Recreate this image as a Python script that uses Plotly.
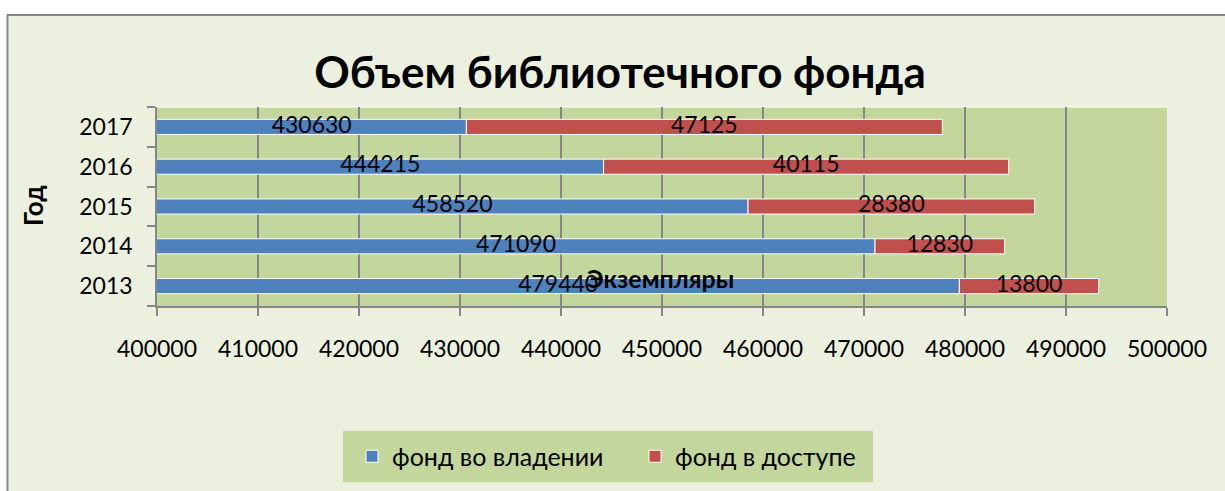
import plotly.graph_objects as go

years = ["2013", "2014", "2015", "2016", "2017"]
owned = [479440, 471090, 458520, 444215, 430630]
access = [13800, 12830, 28380, 40115, 47125]
series_names = ["фонд во владении", "фонд в доступе"]
title_text = "Объем библиотечного фонда"
x_title = "Экземпляры"
y_title = "Год"
x_min, x_max, x_step = 400000, 500000, 10000

FONT = "Lato, 'Open Sans', sans-serif"
BLUE = "#4F81BD"
RED = "#C0504D"
PLOT_BG = "#C3D69B"
CHART_BG = "#EBF1DE"
GRID = "#868686"

# plot area in pixels (for converting decoration positions to paper coords)
L, R, T, B = 157, 1167, 107, 308
W, H = R - L, B - T


def px(xp):
    return (xp - L) / W


def py(yp):
    return (B - yp) / H


fig = go.Figure()
fig.add_trace(go.Bar(
    y=years, x=owned, orientation="h", name=series_names[0],
    marker=dict(color=BLUE, line=dict(color="white", width=1)),
    hoverinfo="x+y",
))
fig.add_trace(go.Bar(
    y=years, x=access, base=owned, orientation="h", name=series_names[1],
    marker=dict(color=RED, line=dict(color="white", width=1)),
    hoverinfo="x+y",
))
# data labels, centred in the visible part of each segment
fig.add_trace(go.Scatter(
    y=years, x=[(max(x_min, 0) + v) / 2 for v in owned], mode="text",
    text=[str(v) for v in owned], textposition="middle center",
    textfont=dict(family=FONT, size=23, color="black"),
    showlegend=False, hoverinfo="skip", cliponaxis=False,
))
fig.add_trace(go.Scatter(
    y=years, x=[o + a / 2 for o, a in zip(owned, access)], mode="text",
    text=[str(v) for v in access], textposition="middle center",
    textfont=dict(family=FONT, size=23, color="black"),
    showlegend=False, hoverinfo="skip", cliponaxis=False,
))

fig.update_layout(
    width=1225, height=491,
    margin=dict(l=L, r=1225 - R, t=T, b=491 - B, pad=0),
    barmode="overlay", bargap=0.62,
    paper_bgcolor="white", plot_bgcolor=PLOT_BG,
    font=dict(family=FONT, size=23, color="black"),
    title=dict(text=title_text, x=px(620), xref="paper", xanchor="center",
               y=1 - 73 / 491, yref="container", yanchor="middle",
               font=dict(family=FONT, size=44, color="black", weight=700)),
    showlegend=True,
    legend=dict(orientation="h", x=px(352), xanchor="left", y=py(460), yanchor="middle",
                bgcolor="rgba(0,0,0,0)", borderwidth=0, font=dict(family=FONT, size=25),
                entrywidth=238, traceorder="normal"),
    shapes=[
        dict(type="rect", xref="paper", yref="paper", layer="below",
             x0=px(7.5), x1=px(1250), y0=py(520), y1=py(14),
             fillcolor=CHART_BG, line=dict(color="#878787", width=2)),
        dict(type="rect", xref="paper", yref="paper", layer="below",
             x0=0, x1=1, y0=0, y1=1, fillcolor=PLOT_BG, line=dict(width=0)),
        dict(type="line", xref="paper", yref="paper", layer="below",
             x0=0, x1=1, y0=1, y1=1, line=dict(color="white", width=1)),
        # legend background box
        dict(type="rect", xref="paper", yref="paper", layer="below",
             x0=px(343), x1=px(873), y0=py(486), y1=py(434),
             fillcolor=PLOT_BG, line=dict(width=0)),
    ],
    annotations=[
        dict(text=x_title, xref="paper", yref="paper", x=px(660), y=py(280),
             xanchor="center", yanchor="middle",
             showarrow=False, font=dict(family=FONT, size=25, weight=700)),
        dict(text=y_title, xref="paper", yref="paper", x=px(33), y=py(207),
             xanchor="center", yanchor="middle",
             textangle=-90, showarrow=False, font=dict(family=FONT, size=26, weight=700)),
    ],
)
fig.update_xaxes(
    range=[x_min, x_max], dtick=x_step, tick0=x_min, tickformat="d",
    showgrid=True, gridcolor=GRID, gridwidth=1.5,
    showline=True, linecolor=GRID, linewidth=1.5,
    ticks="outside", ticklen=8, tickcolor=GRID, tickwidth=1.5,
    ticklabelstandoff=14, zeroline=False, automargin=False,
    tickfont=dict(family=FONT, size=23),
)
fig.update_yaxes(
    type="category", categoryorder="array", categoryarray=years,
    showgrid=False, showline=True, linecolor=GRID, linewidth=1.5,
    ticks="outside", tickson="boundaries", ticklen=8, tickcolor=GRID, tickwidth=1.5,
    ticklabelstandoff=18, automargin=False,
    tickfont=dict(family=FONT, size=23),
)

fig.write_html("out.html", config={"displayModeBar": False},
               post_script="document.body.style.margin='0';")
